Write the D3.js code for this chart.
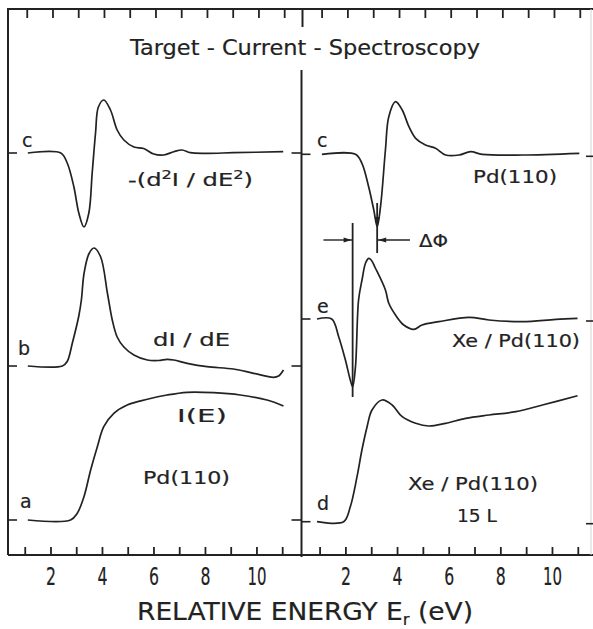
<!DOCTYPE html>
<html>
<head>
<meta charset="utf-8">
<script src="https://cdn.jsdelivr.net/npm/d3@7"></script>
<style>
  html, body { margin: 0; padding: 0; background: #fff; }
  svg { display: block; }
  text { font-family: "DejaVu Sans", "Liberation Sans", sans-serif; fill: #222; stroke: #222; stroke-width: 0.2px; }
</style>
</head>
<body>
<script>
// Target-current spectra of Pd(110), clean and Xe covered.
// Each curve: [relative energy (eV), signal above its own baseline (arb. units)].

// left panel, clean Pd(110)
const pdSecondDeriv = [[1.12,0],[2.4,0],[2.65,-1.0],[2.91,-3.4],[3.10,-6.0],[3.30,-7.4],[3.49,-6.0],[3.62,-2.0],[3.75,2.0],[3.86,4.6],[4.07,5.3],[4.33,4.3],[4.59,2.3],[4.85,1.3],[5.24,0.6],[5.62,0.45],[6.01,-0.1],[6.40,-0.2],[6.79,0.13],[7.11,0.3],[7.43,0.03],[8.08,-0.03],[9.1,0.03],[11.04,0.13]];
const pdFirstDeriv = [[1.12,0],[2.46,0],[2.65,0.45],[2.85,2.3],[3.10,5.0],[3.20,6.6],[3.30,9.2],[3.49,11.2],[3.69,11.8],[3.95,10.9],[4.21,7.3],[4.40,4.6],[4.59,2.9],[4.85,1.9],[5.24,1.1],[5.76,0.6],[6.2,0.55],[6.53,0.67],[6.79,0.6],[7.31,0.27],[8.08,-0.07],[9.11,-0.3],[9.89,-0.73],[10.66,-1.13],[10.86,-1.0],[11.05,-0.4]];
const pdCurrent = [[1.12,0],[2.78,0],[3.04,0.67],[3.30,2.33],[3.56,5.0],[3.82,7.33],[4.07,9.33],[4.46,10.67],[4.98,11.5],[5.76,12.07],[6.53,12.5],[7.31,12.77],[8.34,12.73],[9.37,12.5],[10.41,12.0],[11.05,11.4]];

// right panel, clean vs Xe covered
const pdSecondDerivR = [[1.09,0],[2.39,0],[2.64,-0.9],[2.90,-3.24],[3.10,-5.57],[3.23,-7.24],[3.36,-5.24],[3.55,0.43],[3.68,3.76],[3.94,5.26],[4.20,4.43],[4.46,2.76],[4.72,1.6],[5.10,0.93],[5.49,0.6],[5.88,-0.07],[6.40,-0.07],[6.85,0.26],[7.30,0],[8.86,-0.07],[11.06,0.1]];
const xeSecondDeriv = [[0.9,0],[1.47,0],[1.74,-1.77],[2.0,-4.1],[2.19,-6.1],[2.28,-6.77],[2.39,-4.77],[2.51,1.9],[2.65,4.0],[2.78,5.6],[2.90,6.07],[3.0,5.9],[3.16,5.1],[3.55,2.9],[3.68,1.57],[3.94,0.4],[4.26,-0.6],[4.65,-1.03],[4.97,-0.6],[5.62,-0.27],[6.79,0.17],[7.56,-0.1],[8.86,-0.27],[10.15,-0.03],[10.99,0.07]];
const xeCurrent = [[0.9,0],[1.93,0],[2.19,1.5],[2.45,4.5],[2.64,7.17],[2.84,9.5],[3.03,11.17],[3.42,12.17],[3.81,11.67],[4.20,10.5],[4.72,9.84],[5.23,9.57],[5.88,9.84],[6.66,10.34],[7.56,10.67],[8.60,11.0],[9.63,11.67],[10.99,12.6]];

// baselines (vertical offsets of the stacked curves, arb. units)
const leftBaselines  = { c: 40.2, b: 18.9, a: 3.5 };
const rightBaselines = { c: 40.07, e: 23.6, d: 3.33 };

// energy ticks
const energyTicks = [1,2,3,4,5,6,7,8,9,10,11];
const energyLabels = [2,4,6,8,10];

// work function shift: minima of curve e and curve c
const deltaPhi = [2.28, 3.23];

const W = 593, H = 629;
const ink = "#222";

const svg = d3.select("body").append("svg").attr("width", W).attr("height", H);

const frame = { left: 8, right: 592, top: 9, bottom: 555, mid: 301.5 };

const y = d3.scaleLinear().domain([0, 54.6]).range([frame.bottom, frame.top]);
const xL = d3.scaleLinear().domain([0.35, 11.75]).range([frame.left, frame.mid]);
const xR = d3.scaleLinear().domain([0.3, 11.55]).range([frame.mid, frame.right]);

// frame
svg.append("path")
  .attr("d", `M${frame.left},${frame.bottom} L${frame.left},${frame.top} L${W},${frame.top}`)
  .attr("fill", "none").attr("stroke", ink).attr("stroke-width", 2);
svg.append("line")
  .attr("x1", frame.left).attr("x2", W).attr("y1", frame.bottom).attr("y2", frame.bottom)
  .attr("stroke", ink).attr("stroke-width", 2);
svg.append("line")
  .attr("x1", frame.right - 1).attr("x2", frame.right - 1).attr("y1", frame.top).attr("y2", frame.bottom)
  .attr("stroke", "#d4d4d4").attr("stroke-width", 1);
// panel divider
svg.append("line")
  .attr("x1", frame.mid).attr("x2", frame.mid).attr("y1", 70).attr("y2", frame.bottom + 2)
  .attr("stroke", ink).attr("stroke-width", 2);
svg.append("line")
  .attr("x1", frame.mid + 1).attr("x2", frame.mid + 1).attr("y1", frame.top).attr("y2", 27)
  .attr("stroke", ink).attr("stroke-width", 2);

const labelWidth = d => String(d).length > 1 ? 19 : 10;

function axes(x) {
  const bottom = svg.append("g")
    .attr("transform", `translate(0,${frame.bottom})`)
    .call(d3.axisBottom(x).tickValues(energyTicks)
      .tickSizeInner(-8).tickSizeOuter(0).tickPadding(12)
      .tickFormat(d => energyLabels.includes(d) ? d : ""));
  bottom.select(".domain").remove();
  bottom.selectAll(".tick line").attr("stroke", ink).attr("stroke-width", 1.8);
  bottom.selectAll(".tick text")
    .attr("font-size", 25).attr("fill", ink)
    .attr("font-family", "DejaVu Sans, sans-serif")
    .each(function(d) {
      if (energyLabels.includes(d)) {
        d3.select(this).attr("textLength", labelWidth(d)).attr("lengthAdjust", "spacingAndGlyphs");
      }
    });

  const top = svg.append("g")
    .attr("transform", `translate(2,${frame.top})`)
    .call(d3.axisTop(x).tickValues(energyTicks)
      .tickSizeInner(-9).tickSizeOuter(0).tickFormat(""));
  top.select(".domain").remove();
  top.selectAll(".tick line").attr("stroke", ink).attr("stroke-width", 1.8);
}
axes(xL);
axes(xR);

// baseline markers on the frame edges
function marker(x1, x2, v) {
  svg.append("line").attr("x1", x1).attr("x2", x2)
    .attr("y1", y(v)).attr("y2", y(v))
    .attr("stroke", ink).attr("stroke-width", 1.6);
}
Object.values(leftBaselines).forEach(v => {
  marker(frame.left, frame.left + 9, v);
  marker(frame.mid - 10, frame.mid, v);
});
Object.values(rightBaselines).forEach(v => {
  marker(frame.mid, frame.mid + 9, v);
  marker(frame.right - 6, W, v - 0.2);
});

// curves
function curve(x, data, base) {
  const line = d3.line()
    .x(d => x(d[0]))
    .y(d => y(base + d[1]))
    .curve(d3.curveCatmullRom.alpha(0.5));
  svg.append("path").datum(data)
    .attr("d", line)
    .attr("fill", "none").attr("stroke", ink)
    .attr("stroke-width", 1.7).attr("stroke-linejoin", "round");
}
curve(xL, pdSecondDeriv, leftBaselines.c);
curve(xL, pdFirstDeriv, leftBaselines.b);
curve(xL, pdCurrent, leftBaselines.a);
curve(xR, pdSecondDerivR, rightBaselines.c);
curve(xR, xeSecondDeriv, rightBaselines.e);
curve(xR, xeCurrent, rightBaselines.d);

// ΔΦ construction
const eMin = xR(deltaPhi[0]), cMin = xR(deltaPhi[1]);
const arrowY = y(31.5);
function seg(x1, y1, x2, y2, w) {
  svg.append("line").attr("x1", x1).attr("y1", y1).attr("x2", x2).attr("y2", y2)
    .attr("stroke", ink).attr("stroke-width", w || 1.6);
}
seg(eMin, y(33.2), eMin, y(15.8), 1.8);
seg(cMin, y(35.2), cMin, y(30.2), 1.8);
seg(xR(1.15), arrowY, eMin, arrowY, 1.4);
seg(cMin, arrowY, xR(4.5), arrowY, 1.4);
function head(tipX, tipY, dx, dy) {
  // small filled arrowhead pointing along (dx, dy)
  const len = 8, half = 2.6;
  const bx = tipX - dx * len, by = tipY - dy * len;
  const px = -dy * half, py = dx * half;
  svg.append("path")
    .attr("d", `M${tipX},${tipY} L${bx + px},${by + py} L${bx - px},${by - py} Z`)
    .attr("fill", ink);
}
head(eMin - 1, arrowY, 1, 0);
head(cMin + 1, arrowY, -1, 0);
head(cMin, y(33.0), 0, 1);

// text
function label(x0, yb, str, size, width, anchor) {
  const t = svg.append("text")
    .attr("x", x0).attr("y", yb)
    .attr("font-size", size)
    .attr("text-anchor", anchor || "start")
    .text(str);
  if (width) t.attr("textLength", width).attr("lengthAdjust", "spacingAndGlyphs");
  return t;
}

label(130, 55, "Target - Current - Spectroscopy", 22, 350);

// left panel
label(22, 147, "c", 19);
const d2 = svg.append("text").attr("x", 128).attr("y", 186).attr("font-size", 18)
  .attr("textLength", 125).attr("lengthAdjust", "spacingAndGlyphs");
d2.append("tspan").text("-(d");
d2.append("tspan").attr("font-size", 12).attr("dy", -7).text("2");
d2.append("tspan").attr("dy", 7).text("I / dE");
d2.append("tspan").attr("font-size", 12).attr("dy", -7).text("2");
d2.append("tspan").attr("dy", 7).text(")");
label(18, 355, "b", 19);
label(153, 346, "dI / dE", 18, 77);
label(177, 422, "I(E)", 18, 50);
label(143, 484, "Pd(110)", 18, 87);
label(20, 508, "a", 19);

// right panel
label(317, 147, "c", 19);
label(473, 183, "Pd(110)", 18, 84);
label(419, 247, "ΔΦ", 17, 29);
label(317, 313, "e", 19);
label(452, 347, "Xe / Pd(110)", 18, 128);
label(408, 490, "Xe / Pd(110)", 18, 130);
label(457, 522, "15 L", 18, 40);
label(317, 510, "d", 19);

// x-axis title
const xt = svg.append("text").attr("x", 137).attr("y", 620).attr("font-size", 24)
  .attr("textLength", 336).attr("lengthAdjust", "spacingAndGlyphs");
xt.append("tspan").text("RELATIVE ENERGY E");
xt.append("tspan").attr("font-size", 15).attr("dy", 5).text("r");
xt.append("tspan").attr("dy", -5).text(" (eV)");
</script>
</body>
</html>
